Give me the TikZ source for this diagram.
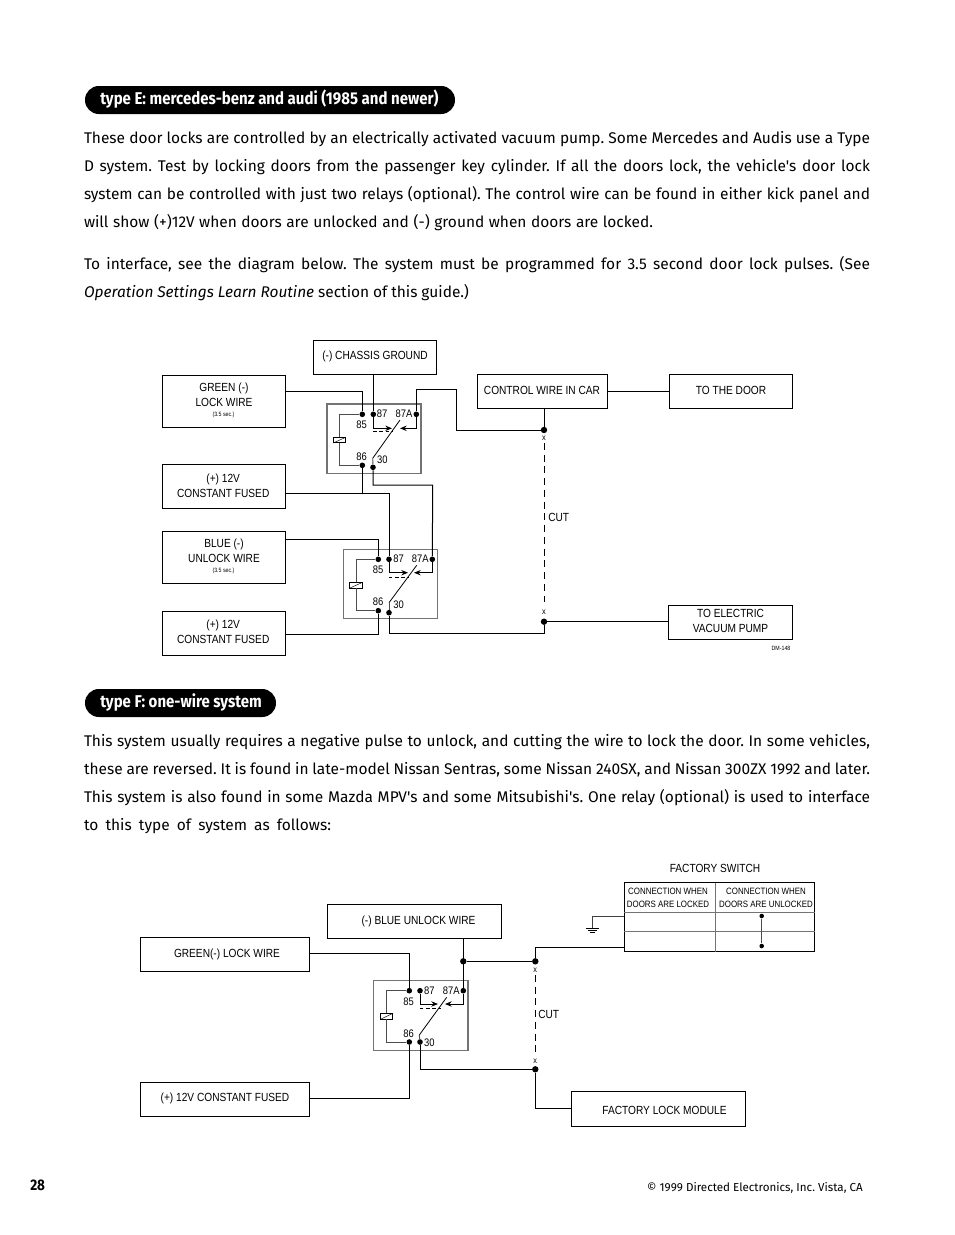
\documentclass[tikz,border=0pt]{standalone}
\usepackage{fontspec}
\setmainfont{Fira Sans}[Ligatures=TeXOff]
\newfontfamily\lab[FakeStretch=0.86]{Liberation Sans}
\newfontfamily\head[FakeStretch=0.88]{Fira Sans}
\usetikzlibrary{arrows.meta,positioning,calc}
\newcommand{\fullline}[3]{\node[bodyline] (#1) at (84,#2) {\makebox[589.5pt][s]{#3}};}
\newcommand{\lastline}[4]{\node[bodyline] (#1) at (84,#2) {\makebox[\dimexpr #4pt*3/4\relax][s]{#3}};}
\tikzset{
  x=0.75pt,y=-0.75pt,
  bodyline/.style={anchor=base west,inner sep=0,outer sep=0,font=\fontsize{11.6}{14}\selectfont\frenchspacing},
  pill/.style={fill=black,rounded corners=10.4pt,draw=none},
  headtext/.style={anchor=base west,inner sep=0,text=white,font=\head\fontsize{12.8}{15}\selectfont\bfseries},
  wire/.style={draw=black,line width=0.75pt},
  boxx/.style={draw=black,line width=0.75pt,inner sep=0},
  relaybox/.style={draw=black!55,line width=1pt,inner sep=0},
  coilw/.style={draw=black!70,line width=0.7pt},
  jdot/.style={circle,fill=black,inner sep=0,minimum size=4.2pt},
  bigdot/.style={circle,fill=black,inner sep=0,minimum size=4.8pt},
  lbl/.style={inner sep=0,align=center,font=\lab\fontsize{8.85}{11.6}\selectfont},
  pinlbl/.style={inner sep=0,font=\lab\fontsize{8.2}{10}\selectfont},
  xlbl/.style={inner sep=0,font=\lab\fontsize{6.4}{8}\selectfont},
  tinylbl/.style={inner sep=0,font=\lab\fontsize{4.6}{6}\selectfont},
  tabl/.style={inner sep=0,align=center,font=\lab\fontsize{6.9}{9.6}\selectfont},
  arrowt/.style={-{Stealth[length=5pt,width=4pt]}},
  cutline/.style={draw=black,line width=0.7pt,dash pattern=on 5.2pt off 3.6pt},
}
\newcommand{\bx}[8]{\node[boxx,minimum width=#4*0.75pt,minimum height=#5*0.75pt] (#1) at (#2,#3) {}; \node[lbl] at ([shift={(#7,#8)}]#1.center) {#6};}
\begin{document}
\begin{tikzpicture}
\useasboundingbox (0,0) rectangle (954,1235);
\fill[white] (0,0) rectangle (954,1235);
% headings
\node[pill,minimum width=277.5pt,minimum height=21pt,inner sep=0] (hE) at (270,100) {};
\node[headtext] (hEt) at (100,104) {type E: mercedes-benz and audi (1985 and newer)};
\node[pill,minimum width=143.25pt,minimum height=21pt,inner sep=0] (hF) at (180.5,703) {};
\node[headtext] (hFt) at (100,707) {type F: one-wire system};
% body text
\fullline{a1}{143}{These door locks are controlled by an electrically activated vacuum pump. Some Mercedes and Audis use a Type}
\fullline{a2}{171}{D system. Test by locking doors from the passenger key cylinder. If all the doors lock, the vehicle's door lock}
\fullline{a3}{199}{system can be controlled with just two relays (optional). The control wire can be found in either kick panel and}
\lastline{a4}{227}{will show (+)12V when doors are unlocked and (-) ground when doors are locked.}{569}
\fullline{b1}{269}{To interface, see the diagram below. The system must be programmed for 3.5 second door lock pulses. (See}
\lastline{b2}{297}{\textit{Operation Settings Learn Routine} section of this guide.)}{385}
\fullline{c1}{746}{This system usually requires a negative pulse to unlock, and cutting the wire to lock the door. In some vehicles,}
\fullline{c2}{774}{these are reversed. It is found in late-model Nissan Sentras, some Nissan 240SX, and Nissan 300ZX 1992 and later.}
\fullline{c3}{802}{This system is also found in some Mazda MPV's and some Mitsubishi's. One relay (optional) is used to interface}
\lastline{c4}{830}{to this type of system as follows:}{247}
% === diagram 1 boxes
\bx{chassis}{375}{357}{123.5}{34}{(-) CHASSIS GROUND}{0}{-1}
\bx{control}{542.5}{391}{130}{34}{CONTROL WIRE IN CAR}{-0.5}{-1}
\bx{door}{731}{391}{123}{34}{TO THE DOOR}{0}{-1}
\bx{vac}{730.5}{622}{124}{34}{TO ELECTRIC\\VACUUM PUMP}{0}{-1}
\node[boxx,minimum width=92.25pt,minimum height=39pt] (green) at (224.2,401.3) {};
\node[lbl] (greent) at (224,395) {GREEN (-)\\LOCK WIRE};
\node[tinylbl] (greens) at (223.5,415) {(3.5 sec.)};
\bx{plusa}{224.2}{486.3}{123}{44}{(+) 12V\\CONSTANT FUSED}{-1}{-0.5}
\node[boxx,minimum width=92.25pt,minimum height=39pt] (blue) at (224.2,557.3) {};
\node[lbl] (bluet) at (224,551) {BLUE (-)\\UNLOCK WIRE};
\node[tinylbl] (blues) at (223.5,571) {(3.5 sec.)};
\bx{plusb}{224.2}{633.3}{123}{44}{(+) 12V\\CONSTANT FUSED}{-1}{-1.5}
\node[tinylbl] (dm) at (781,648.5) {DM-148};
\node[lbl,anchor=west] (cuta) at (548,517) {CUT};
% relay 1
\node[relaybox,minimum width=70.5pt,minimum height=52pt] (ra) at (374,438.5) {};
\node[jdot] (a85) at (362.3,414.3) {};
\node[jdot] (a87) at (373.3,414.3) {};
\node[jdot] (a87A) at (416.3,414.3) {};
\node[jdot] (a86) at (362.3,465.3) {};
\node[jdot] (a30) at (373,467.3) {};
\node[pinlbl] at (361.7,424.3) {85};
\node[pinlbl] at (382,413.3) {87};
\node[pinlbl] at (404,413.3) {87A};
\node[pinlbl] at (361.7,456.7) {86};
\node[pinlbl] at (382.3,460) {30};
\node[draw=black,fill=white,line width=0.5pt,minimum width=9pt,minimum height=3.8pt,inner sep=0] (acoil) at (339.3,440.2) {};
\draw[black,line width=0.35pt] (acoil.south west) -- (acoil.north east);
\draw[coilw] (a85) -| (acoil.north);
\draw[coilw] (a86) -| (acoil.south);
\coordinate (asw0) at (372.7,458.3);
\coordinate (asw1) at (400,420);
\draw[black,line width=0.6pt] (asw0) -- (asw1);
\draw[coilw] (asw0) -- (a30);
\coordinate (aa1) at (373.3,428.3);
\coordinate (aa2) at (392,428.3);
\coordinate (aa3) at (416.3,428.3);
\coordinate (aa4) at (400,428.3);
\draw[wire,arrowt] (a87) -- (aa1) -- (aa2);
\draw[wire,arrowt] (a87A) -- (aa3) -- (aa4);
\draw[black,line width=0.6pt,dash pattern=on 2.6pt off 2pt] (373.3,431.5) -- (393,431.5);
% relay 2
\node[relaybox,minimum width=70.5pt,minimum height=52pt] (rb) at (390.3,584) {};
\node[jdot] (b85) at (378.3,559.3) {};
\node[jdot] (b87) at (389,559.3) {};
\node[jdot] (b87A) at (432.3,559.3) {};
\node[jdot] (b86) at (378.3,610.7) {};
\node[jdot] (b30) at (389,612.7) {};
\node[pinlbl] at (378,569.3) {85};
\node[pinlbl] at (398.7,558.7) {87};
\node[pinlbl] at (420.3,558.7) {87A};
\node[pinlbl] at (378,602) {86};
\node[pinlbl] at (398.7,605) {30};
\node[draw=black,fill=white,line width=0.5pt,minimum width=9.5pt,minimum height=4pt,inner sep=0] (bcoil) at (356,585.3) {};
\draw[black,line width=0.35pt] (bcoil.south west) -- (bcoil.north east);
\draw[coilw] (b85) -| (bcoil.north);
\draw[coilw] (b86) -| (bcoil.south);
\coordinate (bsw0) at (389,602.7);
\coordinate (bsw1) at (416.7,565.3);
\draw[black,line width=0.6pt] (bsw0) -- (bsw1);
\draw[coilw] (bsw0) -- (b30);
\coordinate (ba1) at (389,572.7);
\coordinate (ba2) at (408,572.7);
\coordinate (ba3) at (432.3,572.7);
\coordinate (ba4) at (414,572.7);
\draw[wire,arrowt] (b87) -- (ba1) -- (ba2);
\draw[wire,arrowt] (b87A) -- (ba3) -- (ba4);
\draw[black,line width=0.6pt,dash pattern=on 2.6pt off 2pt] (389,577.3) -- (409,577.3);
% diagram 1 wires
\node[bigdot] (j1) at (544,430) {};
\node[bigdot] (j2) at (544,621.7) {};
\node[xlbl] (xa) at (544,438) {x};
\node[xlbl] (xb) at (544,612.5) {x};
\coordinate (cA) at (544,443);
\coordinate (cB) at (544,607);
\draw[cutline] (cA) -- (cB);
\draw[wire] (chassis.south -| a87) -- (a87);
\draw[wire] (control.south -| j1) -- (j1);
\draw[wire] (control.east) -- (door.west);
\draw[wire] (j2) -- (vac.west |- j2);
\coordinate (g1) at (285.5,391);
\draw[wire] (g1) -| (a85);
\coordinate (ap) at (285.5,493.5);
\draw[wire] (ap) -- (b87 |- ap) -- (b87);
\draw[wire] (a86) -- (a86 |- ap);
\coordinate (u1) at (285.5,539.7);
\draw[wire] (u1) -| (b85);
\coordinate (p2) at (285.5,634);
\draw[wire] (p2) -| (b86);
\coordinate (c1) at (456,389.3);
\coordinate (c2) at (456,430);
\draw[wire] (a87A) |- (c1) -- (c2) -- (j1);
\coordinate (t1) at (432.7,485);
\draw[wire] (a30) |- (t1) -- (b87A);
\coordinate (w2) at (389,633.3);
\draw[wire] (b30) -- (w2) -| (j2);
% === diagram 2
\bx{bluew}{414.3}{921.7}{174.5}{33.5}{(-) BLUE UNLOCK WIRE}{4.2}{-0.7}
\bx{greenw}{225}{954}{169}{34}{GREEN(-) LOCK WIRE}{2}{0}
\bx{plusw}{225}{1099}{169}{34}{(+) 12V CONSTANT FUSED}{0}{-1}
\bx{lockm}{658.5}{1108.5}{174}{35}{FACTORY LOCK MODULE}{6}{1.5}
\node[relaybox,minimum width=70.7pt,minimum height=52.5pt] (rc) at (420.8,1015.3) {};
\node[jdot] (c85) at (409.3,990.7) {};
\node[jdot] (c87) at (420,990.7) {};
\node[jdot] (c87A) at (463.3,990.7) {};
\node[jdot] (c86) at (409.3,1042) {};
\node[jdot] (c30) at (420,1042) {};
\node[pinlbl] at (408.7,1001.3) {85};
\node[pinlbl] at (429.3,990.7) {87};
\node[pinlbl] at (451.3,990.7) {87A};
\node[pinlbl] at (408.7,1033.3) {86};
\node[pinlbl] at (429.3,1042.7) {30};
\node[draw=black,fill=white,line width=0.5pt,minimum width=9pt,minimum height=4pt,inner sep=0] (ccoil) at (386.7,1016.3) {};
\draw[black,line width=0.35pt] (ccoil.south west) -- (ccoil.north east);
\draw[coilw] (c85) -| (ccoil.north);
\draw[coilw] (c86) -| (ccoil.south);
\coordinate (csw0) at (419.3,1035);
\coordinate (csw1) at (446.7,997.3);
\draw[black,line width=0.6pt] (csw0) -- (csw1);
\draw[coilw] (csw0) -- (c30);
\coordinate (ca1) at (420,1004);
\coordinate (ca2) at (438,1004);
\coordinate (ca3) at (463.3,1004);
\coordinate (ca4) at (445,1004);
\draw[wire,arrowt] (c87) -- (ca1) -- (ca2);
\draw[wire,arrowt] (c87A) -- (ca3) -- (ca4);
\draw[black,line width=0.6pt,dash pattern=on 2.6pt off 2pt] (420,1008.3) -- (441,1008.3);
\node[bigdot] (d0) at (463.3,961.3) {};
\node[bigdot] (d1) at (535.3,961.3) {};
\node[bigdot] (d2) at (535.3,1069.3) {};
\node[xlbl] (xc) at (535.3,970) {x};
\node[xlbl] (xd) at (535.3,1061.5) {x};
\node[lbl,anchor=west] (cutb) at (538,1014) {CUT};
\coordinate (dA) at (535.3,975);
\coordinate (dB) at (535.3,1056);
\draw[cutline] (dA) -- (dB);
\draw[wire] (bluew.south -| c87A) -- (c87A);
\draw[wire] (d0) -- (d1);
\coordinate (e1) at (309.5,953.3);
\draw[wire] (e1) -| (c85);
\coordinate (e2) at (309.5,1098.7);
\draw[wire] (e2) -| (c86);
\draw[wire] (c30) |- (d2);
\coordinate (e3) at (571.5,1108);
\draw[wire] (d2) |- (e3);
% factory switch table
\node[lbl] (fs) at (715,868.5) {FACTORY SWITCH};
\node[boxx,minimum width=142.5pt,minimum height=51.75pt] (sw) at (719.3,917.2) {};
\coordinate (s1) at (715.7,882.7);
\coordinate (s2) at (715.7,951.7);
\coordinate (h1) at (700,912.3);
\coordinate (h2) at (700,931.3);
\draw[black!55,line width=0.7pt] (s1) -- (s2);
\draw[black!55,line width=0.6pt] (sw.west |- h1) -- (sw.east |- h1);
\draw[black!55,line width=0.6pt] (sw.west |- h2) -- (sw.east |- h2);
\node[tabl] (swl) at (668,898) {CONNECTION WHEN\\DOORS ARE LOCKED};
\node[tabl] (swr) at (766,897.5) {CONNECTION WHEN\\DOORS ARE UNLOCKED};
\node[jdot,minimum size=3.4pt] (sd1) at (761.7,916) {};
\node[jdot,minimum size=3.4pt] (sd2) at (761.7,946) {};
\draw[black!70,line width=0.9pt] (sd1) -- (sd2);
\coordinate (gnd) at (592,916.3);
\coordinate (gndb) at (592,927.5);
\draw[black!75,line width=0.6pt] (sw.west |- gnd) -- (gnd) -- (gndb);
\draw[black,line width=0.6pt] (585.5,928.3) -- (598.5,928.3);
\draw[black,line width=0.6pt] (587.5,930.5) -- (596.5,930.5);
\draw[black,line width=0.6pt] (589.5,932.7) -- (594.5,932.7);
\coordinate (k1) at (535.3,947.3);
\draw[wire] (d1) -- (k1) -- (sw.west |- k1);
% footer
\node[anchor=base west,inner sep=0,font=\head\fontsize{11.5}{13}\selectfont\bfseries] (pg) at (30,1190) {28};
\node[anchor=base east,inner sep=0,font=\fontsize{8.7}{10}\selectfont\frenchspacing] (copy) at (863,1191) {\textcopyright\ 1999 Directed Electronics, Inc. Vista, CA};
\end{tikzpicture}
\end{document}
